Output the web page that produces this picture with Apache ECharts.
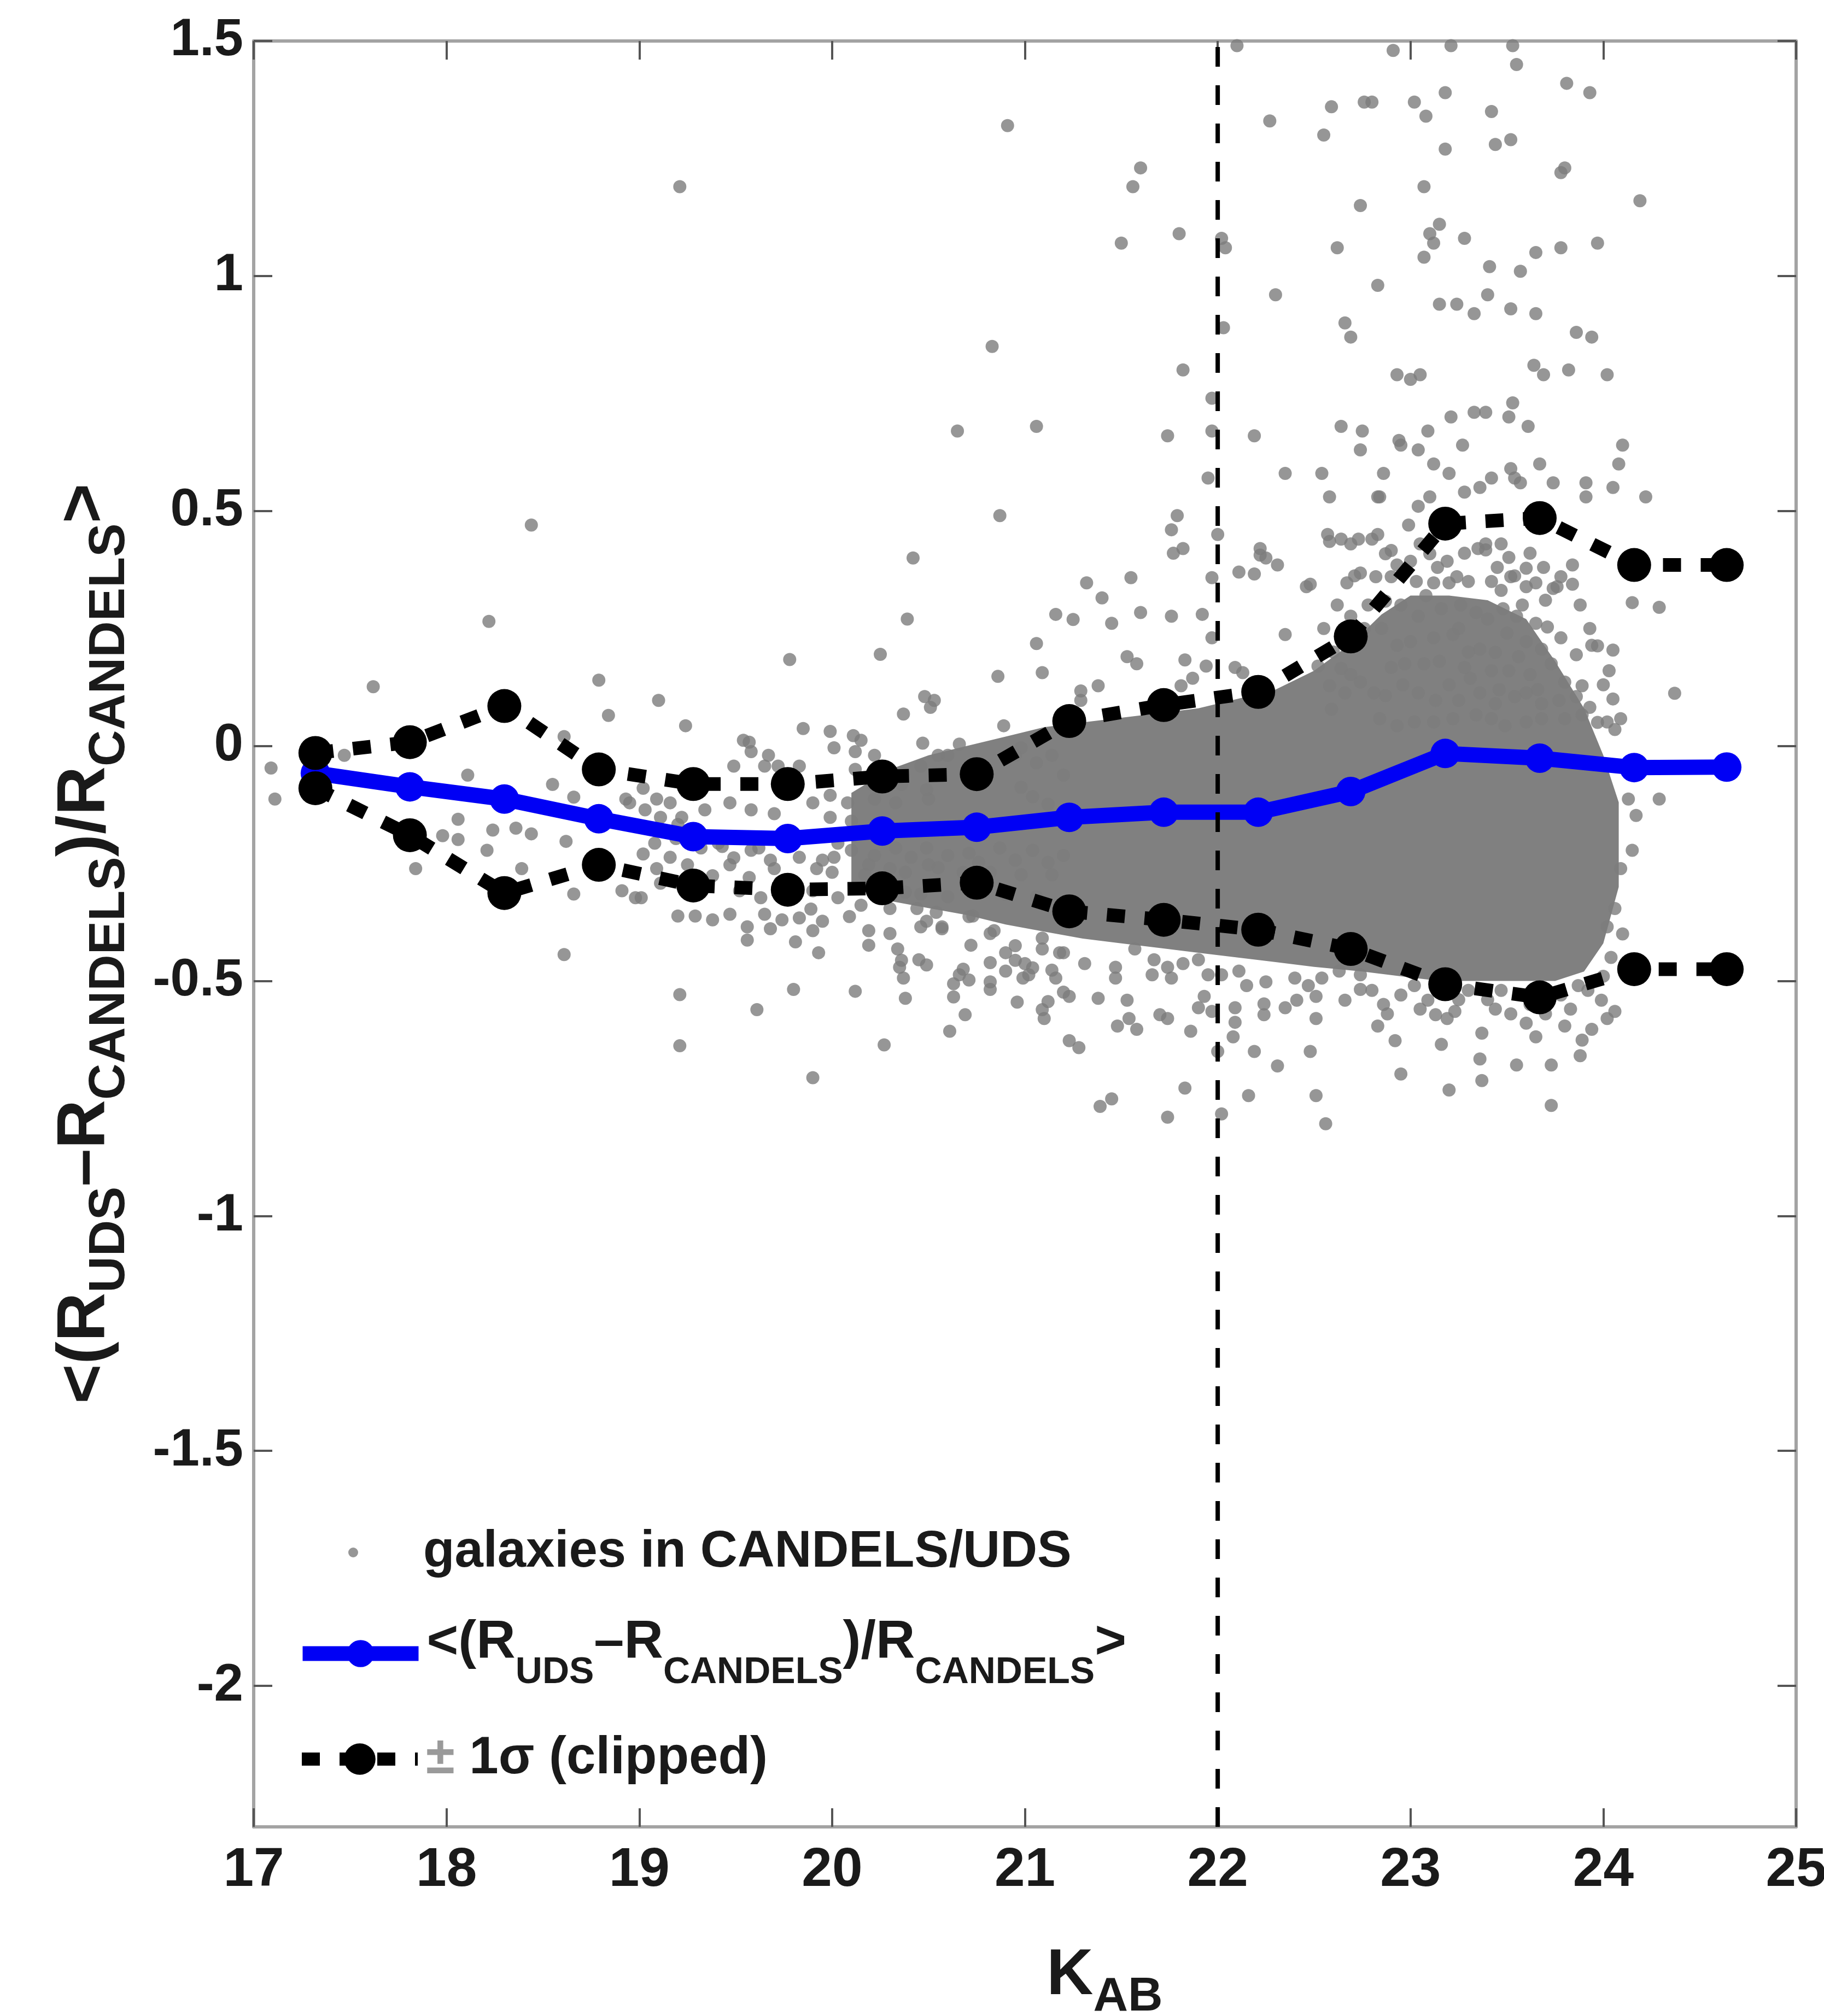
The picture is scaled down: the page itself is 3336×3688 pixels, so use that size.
<!DOCTYPE html>
<html>
<head>
<meta charset="utf-8" />
<title>UDS vs CANDELS radius</title>
<script src="https://cdn.jsdelivr.net/npm/echarts@6.0.0/dist/echarts.min.js"></script>
<style>
  html, body { margin: 0; padding: 0; background: #fff; }
  #chart { width: 3336px; height: 3688px; }
</style>
</head>
<body>
<div id="chart"></div>
<script>
// K_AB bin centres and the binned statistics
var binK = [17.32, 17.81, 18.30, 18.79, 19.28, 19.77, 20.26, 20.75, 21.23, 21.72, 22.21, 22.69, 23.18, 23.67, 24.16, 24.64];
var meanRel = [-0.058, -0.087, -0.113, -0.155, -0.193, -0.197, -0.181, -0.173, -0.152, -0.141, -0.141, -0.097, -0.016, -0.026, -0.046, -0.045];
var sigmaUp = [-0.015, 0.008, 0.085, -0.05, -0.081, -0.081, -0.065, -0.06, 0.053, 0.087, 0.115, 0.233, 0.473, 0.485, 0.385, 0.385];
var sigmaLow = [-0.09, -0.19, -0.313, -0.253, -0.297, -0.306, -0.303, -0.291, -0.352, -0.37, -0.391, -0.432, -0.507, -0.535, -0.475, -0.475];

var cutK = 22;
var yMin = -2.3, yMax = 1.5;
var yTicks = [-2, -1.5, -1, -0.5, 0, 0.5, 1, 1.5];

// outline of the region where the galaxy points merge into a solid cloud
var coreUpper = [[20.1,-0.1],[20.3,-0.05],[20.5,-0.02],[20.7,0.0],[20.9,0.02],[21.1,0.04],[21.3,0.05],[21.5,0.06],[21.7,0.07],[21.9,0.08],[22.1,0.1],[22.3,0.12],[22.5,0.16],[22.7,0.22],[22.85,0.28],[23.0,0.32],[23.2,0.32],[23.4,0.31],[23.6,0.27],[23.75,0.18],[23.9,0.08],[24.0,-0.02],[24.08,-0.12]];
var coreLower = [[24.08,-0.3],[24.0,-0.42],[23.9,-0.48],[23.75,-0.5],[23.55,-0.5],[23.35,-0.5],[23.15,-0.5],[22.95,-0.49],[22.75,-0.48],[22.5,-0.47],[22.3,-0.46],[22.1,-0.45],[21.9,-0.44],[21.7,-0.43],[21.5,-0.42],[21.3,-0.41],[21.1,-0.395],[20.9,-0.38],[20.7,-0.36],[20.5,-0.345],[20.3,-0.33],[20.1,-0.3]];

// individual galaxies [K_AB, relative difference]
var galaxies = [
  [19.21,1.19],[18.44,0.47],[20.42,0.40],[20.91,1.32],[22.10,1.49],[22.27,1.33],[22.59,1.36],[22.76,1.37],[22.55,1.30],[21.60,1.23],
  [21.56,1.19],[22.74,1.15],[21.50,1.07],[21.80,1.09],[22.04,1.06],[22.02,1.08],[22.62,1.06],[22.30,0.96],[22.66,0.90],[22.69,0.87],
  [22.03,0.89],[20.83,0.85],[21.82,0.80],[21.97,0.74],[22.64,0.68],[22.75,0.67],[22.74,0.63],[20.65,0.67],[21.06,0.68],[21.74,0.66],
  [21.97,0.67],[22.19,0.66],[22.35,0.58],[22.54,0.58],[21.95,0.57],[22.58,0.53],[20.87,0.49],[21.79,0.49],[21.76,0.46],[22.57,0.45],
  [22.64,0.44],[22.73,0.44],[21.82,0.42],[22.22,0.42],[21.77,0.41],[22.00,0.45],[22.95,0.64],[22.84,0.53],[23.42,0.57],
  [22.91,1.48],[23.21,1.49],[23.53,1.49],[23.55,1.45],[23.81,1.41],[23.93,1.39],[22.80,1.37],[23.02,1.37],[23.18,1.39],[23.08,1.34],
  [23.42,1.35],[23.44,1.28],[23.52,1.29],[23.18,1.27],[23.78,1.22],[23.80,1.23],[23.07,1.19],[24.19,1.16],[23.15,1.11],[23.10,1.09],
  [23.12,1.07],[23.07,1.04],[23.28,1.08],[23.65,1.05],[23.78,1.06],[23.97,1.07],[23.41,1.02],[23.57,1.01],[22.83,0.98],[23.40,0.96],
  [23.15,0.94],[23.24,0.94],[23.33,0.92],[23.52,0.93],[23.65,0.92],[23.86,0.88],[23.94,0.87],[23.64,0.81],[23.69,0.79],[23.82,0.80],
  [24.02,0.79],[22.93,0.79],[23.00,0.78],[23.05,0.79],[23.33,0.71],[23.39,0.71],[23.53,0.73],[23.51,0.70],[23.21,0.70],[23.61,0.68],
  [23.09,0.67],[22.94,0.65],[23.04,0.63],[23.27,0.64],[24.10,0.64],[24.08,0.60],[23.12,0.60],[23.20,0.58],[22.86,0.58],[23.52,0.59],
  [23.67,0.60],[23.54,0.57],[23.57,0.56],[23.74,0.56],[23.91,0.56],[23.91,0.53],[24.05,0.55],[24.22,0.53],[23.28,0.54],[23.36,0.55],
  [22.83,0.53],[23.10,0.53],[23.04,0.51],[22.99,0.47],[22.83,0.45],[23.39,0.43],[23.47,0.43],
  [22.25,0.40],[22.31,0.385],[22.11,0.37],[22.19,0.366],[21.97,0.358],[21.55,0.358],[21.32,0.347],[21.40,0.315],[22.46,0.339],[22.67,0.347],
  [22.71,0.362],[21.16,0.28],[21.25,0.269],[21.45,0.261],[21.60,0.284],[21.76,0.276],[21.92,0.28],[22.35,0.237],[22.69,0.276],[21.97,0.23],
  [21.06,0.218],[21.53,0.19],[21.58,0.175],[21.83,0.183],[20.86,0.148],[21.09,0.156],[21.87,0.144],[21.29,0.117],[22.09,0.167],[22.13,0.156],
  [22.58,0.128],[22.66,0.113],[22.69,0.152],[20.89,0.043],[20.66,0.004],[20.53,0.097],[20.51,0.082],[20.55,-0.02],[21.81,0.128],[21.38,0.128],
  [21.29,0.097],[22.58,0.435],[22.69,0.43],[22.80,0.44],[22.90,0.416],[22.48,0.344],[22.74,0.368],[22.64,0.165],[22.74,0.136],[22.87,0.107],
  [22.59,0.078],[22.22,0.406],[21.94,0.17],[20.48,0.105],[20.98,-0.004],[20.39,0.27],[20.25,0.195],[19.78,0.184],
  [22.55,0.25],[22.62,0.30],[22.70,0.22],[22.78,0.30],[22.82,0.36],[22.60,0.20],[22.52,0.17],[22.76,0.25],
  [18.22,0.265],[17.62,0.126],[18.79,0.14],[19.10,0.097],[18.84,0.065],[19.24,0.043],[20.37,0.068],[19.85,0.037],[19.99,0.031],[17.09,-0.047],
  [17.11,-0.113],[17.47,-0.02],[18.11,-0.062],[18.55,-0.082],[18.61,0.02],[18.66,-0.109],[18.06,-0.156],[18.24,-0.179],[18.36,-0.175],[18.44,-0.187],
  [18.62,-0.203],[18.21,-0.222],[17.98,-0.191],[18.06,-0.199],[17.84,-0.261],[18.39,-0.261],[18.66,-0.315],[18.61,-0.444],[18.91,-0.308],[19.01,-0.323],
  [18.95,-0.121],[19.03,-0.136],[19.11,-0.152],[19.20,-0.167],[19.49,-0.043],[19.57,0.008],[19.67,-0.02],[19.72,-0.043],[20.01,-0.004],[20.15,0.012],
  [20.12,-0.05],[19.20,-0.362],[19.29,-0.362],[19.38,-0.37],[19.47,-0.358],[19.56,-0.385],[19.65,-0.358],[19.74,-0.37],[19.83,-0.366],[19.56,-0.413],
  [19.81,-0.417],[19.90,-0.393],[19.93,-0.44],[20.19,-0.393],[20.19,-0.424],[20.34,-0.432],[20.35,-0.471],[20.37,-0.494],[20.45,-0.455],[20.46,-0.385],
  [19.21,-0.529],[19.61,-0.561],[19.80,-0.518],[20.12,-0.522],[20.38,-0.537],[19.21,-0.638],[20.27,-0.636],[19.90,-0.706],
  [19.16,-0.237],[19.09,-0.261],[19.02,-0.23],[19.25,-0.253],[19.11,-0.292],[18.98,-0.323],[19.27,-0.308],[19.38,-0.276],[19.47,-0.253],[19.58,-0.222],
  [19.43,-0.214],[19.52,-0.308],[19.63,-0.323],[19.70,-0.261],[19.83,-0.237],[19.92,-0.261],[20.01,-0.237],[20.10,-0.222],[20.19,-0.253],[20.30,-0.261],
  [20.41,-0.237],[20.50,-0.253],[19.90,-0.308],[20.03,-0.323],[20.15,-0.339],[20.30,-0.346],[20.44,-0.346],[20.46,-0.315],
  [19.54,0.012],[19.58,-0.012],[19.65,-0.043],[19.83,-0.043],[19.90,-0.121],[19.99,-0.105],[20.08,-0.121],[20.12,-0.012],[20.21,-0.082],[20.33,-0.121],
  [20.37,-0.058],[20.46,-0.043],[20.50,-0.113],[19.47,-0.121],[19.34,-0.136],[19.22,-0.152],[19.16,-0.121],[19.09,-0.113],[19.02,-0.09],[18.93,-0.113],
  [19.58,-0.136],[19.70,-0.144],[19.99,-0.152],[20.10,-0.16],
  [20.11,0.022],[20.22,-0.02],[20.47,0.006],[20.60,-0.02],[20.95,-0.02],[21.06,-0.036],[21.14,-0.02],[21.2,-0.062],[20.36,-0.082],[20.49,-0.093],
  [20.22,-0.113],[20.98,-0.088],[21.04,-0.108],[21.12,-0.124],
  [19.08,-0.207],[19.19,-0.197],[19.32,-0.217],[19.41,-0.207],[19.49,-0.238],[19.62,-0.217],[19.68,-0.243],[19.95,-0.243],[20.03,-0.207],[20.22,-0.233],
  [20.33,-0.217],[20.49,-0.217],[20.60,-0.233],[20.71,-0.228],[20.76,-0.248],[20.87,-0.217],[20.95,-0.243],[21.04,-0.222],[21.12,-0.248],[21.2,-0.233],
  [20.0,-0.269],[20.17,-0.274],[20.38,-0.269],[20.55,-0.259],[20.68,-0.269],[20.82,-0.269],[20.98,-0.274],[21.14,-0.274],[19.57,-0.28],[19.73,-0.29],
  [20.38,-0.311],[20.60,-0.321],[20.90,-0.316],[21.06,-0.321],
  [19.68,-0.389],[19.89,-0.347],[19.95,-0.373],[20.09,-0.363],[20.30,-0.399],[20.49,-0.373],[20.57,-0.389],[20.71,-0.363],[20.82,-0.399],[20.95,-0.425],
  [21.09,-0.409],[21.2,-0.44],[20.36,-0.456],[20.49,-0.466],[20.82,-0.461],[20.95,-0.456],[21.04,-0.472],[21.14,-0.477],[20.71,-0.498],[20.63,-0.534],
  [20.82,-0.518],[21.12,-0.544],[21.2,-0.524],
  [20.54,-0.354],[20.57,-0.385],[20.73,-0.362],[20.84,-0.393],[20.72,-0.424],[20.90,-0.44],[21.09,-0.432],[21.18,-0.44],[21.31,-0.463],[21.47,-0.471],
  [21.57,-0.432],[21.67,-0.455],[21.74,-0.471],[21.82,-0.463],[21.90,-0.455],[21.00,-0.463],[21.02,-0.487],[20.66,-0.487],[20.63,-0.506],[20.68,-0.475],
  [20.82,-0.502],[20.90,-0.479],[20.99,-0.494],[21.16,-0.494],[21.47,-0.494],[21.66,-0.487],[21.76,-0.494],[22.02,-0.487],[21.95,-0.487],[22.11,-0.479],
  [22.15,-0.51],[22.25,-0.502],[22.40,-0.494],[22.47,-0.51],[22.54,-0.494],[22.63,-0.479],[22.74,-0.487],[22.41,-0.541],[22.51,-0.533],[22.66,-0.541],
  [22.74,-0.518],[22.24,-0.549],[22.35,-0.557],[20.96,-0.545],[21.09,-0.561],[21.10,-0.58],[21.23,-0.533],[21.38,-0.537],[21.53,-0.541],[21.54,-0.58],
  [21.70,-0.572],[21.74,-0.58],[21.90,-0.557],[21.93,-0.533],[21.97,-0.565],[22.09,-0.557],[22.09,-0.588],[22.24,-0.572],[20.69,-0.572],[20.61,-0.607],
  [21.86,-0.607],[21.48,-0.596],[21.58,-0.603],[22.51,-0.58],[21.23,-0.627],[21.28,-0.642],[22.08,-0.619],[22.19,-0.65],[22.31,-0.681],[22.48,-0.65],
  [22.00,-0.65],[21.83,-0.728],[22.16,-0.744],[22.51,-0.744],[21.39,-0.767],[21.45,-0.751],[21.74,-0.79],[22.02,-0.783],[22.56,-0.804],
  [22.95,-0.698],[23.20,-0.732],[23.37,-0.712],[23.55,-0.679],[23.73,-0.679],[23.73,-0.765],[23.37,-0.611],[23.16,-0.635],[23.88,-0.659],[23.89,-0.626],
  [22.83,-0.596],[22.92,-0.627],[23.09,-0.541],[23.23,-0.565],[23.36,-0.666],[23.65,-0.619],[23.80,-0.596],[23.94,-0.603],[24.02,-0.58],[24.06,-0.565],
  [23.13,-0.572],[23.19,-0.58],[23.87,-0.51],[23.99,-0.541],[22.80,-0.52],[22.86,-0.55],[22.95,-0.53],[23.02,-0.51],[23.30,-0.52],[23.40,-0.54],
  [23.47,-0.52],[23.62,-0.55],[23.70,-0.57],[23.78,-0.53],[23.83,-0.56],[23.92,-0.52],[24.00,-0.49],[23.60,-0.59],[23.44,-0.56],
  [22.88,-0.57],[23.05,-0.56],[23.25,-0.54],[23.52,-0.57],[23.72,-0.53],[24.04,-0.45],[24.10,-0.40],
  [24.13,-0.113],[24.29,-0.113],[24.17,-0.148],[24.15,-0.222],[24.09,-0.261],[24.02,-0.385],[24.06,-0.346],[24.15,0.305],[24.29,0.295],[24.37,0.112],
  [23.97,0.213],[24.05,0.204],[24.03,0.16],[23.86,0.194],[23.84,0.344],[23.76,0.339],[23.94,0.214],[24.02,0.051],[24.09,0.058],[24.06,0.035],
  [22.87,0.409],[22.93,0.385],[23.0,0.393],[23.10,0.409],[23.19,0.393],[23.39,0.417],[23.51,0.401],[23.60,0.378],[23.84,0.385],[23.12,0.347],
  [23.20,0.347],[23.47,0.331],[23.54,0.362],[23.60,0.339],[23.65,0.347],[23.74,0.335],[22.87,0.308],[23.04,0.276],[23.16,0.292],[23.26,0.30],
  [23.34,0.284],[23.48,0.292],[23.55,0.276],[23.65,0.261],[23.71,0.253],[22.93,0.214],[23.0,0.222],[23.12,0.23],[23.22,0.237],[23.36,0.206],
  [23.44,0.199],[23.60,0.222],[23.68,0.206],[22.90,0.167],[22.97,0.175],[23.07,0.175],[23.28,0.167],[23.31,0.144],[23.42,0.16],[23.51,0.16],
  [23.62,0.152],[23.73,0.175],[23.80,0.136],[23.89,0.128],[22.81,0.113],[23.04,0.113],[23.13,0.097],[23.25,0.097],[23.36,0.113],[23.44,0.09],
  [23.54,0.105],[23.60,0.113],[23.68,0.09],[23.77,0.097],[23.86,0.105],[23.93,0.082],[22.84,0.058],[22.93,0.043],[23.02,0.051],[23.12,0.051],
  [23.22,0.058],[23.34,0.066],[23.42,0.058],[23.49,0.043],[23.60,0.051],[23.68,0.058],[23.80,0.058],[23.89,0.066],
  [22.95,0.30],[23.08,0.32],[23.30,0.35],[23.40,0.27],[23.50,0.24],[23.58,0.30],[23.25,0.25],[23.15,0.18],[22.85,0.25],[23.45,0.38],
  [23.70,0.31],[23.78,0.23],[23.35,0.42],[23.05,0.43],[22.96,0.13],[23.20,0.13],[23.56,0.19],[23.66,0.12],[23.46,0.12],[23.30,0.20],
  [22.90,0.36],[23.03,0.35],[23.14,0.38],[23.24,0.36],[23.28,0.41],[23.42,0.35],[23.52,0.36],[23.62,0.41],[23.69,0.38],[23.78,0.36],
  [23.88,0.30],[23.93,0.25],[24.0,0.13],[24.05,0.10],[23.97,0.05]
];

var nameGal = 'galaxies in CANDELS/UDS';
var nameMean = '<(R_UDS–R_CANDELS)/R_CANDELS>';
var nameSig = '± 1σ (clipped)';

function zip(xs, ys) {
  return xs.map(function (x, i) { return [x, ys[i]]; });
}

var font = 'Liberation Sans, Arial, Helvetica, sans-serif';
var ink = '#1a1a1a';
var axisLineStyle = { color: '#a3a3a3', width: 6 };
var tickStyle = { color: '#555', width: 4 };

function boldText(size, extra) {
  var s = { fontSize: size, fontWeight: 'bold', fontFamily: font, color: ink, lineHeight: size };
  for (var k in extra) s[k] = extra[k];
  return s;
}

var chart = echarts.init(document.getElementById('chart'));

var option = {
  backgroundColor: '#fff',
  animation: false,
  grid: { left: 464, top: 75, right: 51, bottom: 346, outerBoundsMode: 'none' },
  xAxis: [
    {
      type: 'value', min: 17, max: 25, interval: 1, position: 'bottom',
      axisLine: { show: true, onZero: false, lineStyle: axisLineStyle },
      axisTick: { show: true, inside: true, length: 34, lineStyle: tickStyle },
      axisLabel: { fontSize: 100, fontWeight: 'bold', fontFamily: font, color: ink, margin: 30 },
      splitLine: { show: false },
      name: '{k|K}{s|AB}', nameLocation: 'middle', nameGap: 226,
      nameTextStyle: {
        padding: [0, 0, 0, 292],
        rich: {
          k: boldText(118, { padding: [0, 0, 23, 0] }),
          s: boldText(88, { padding: [53, 0, 0, 0] })
        }
      }
    },
    {
      type: 'value', min: 17, max: 25, interval: 1, position: 'top',
      axisLine: { show: true, onZero: false, lineStyle: axisLineStyle },
      axisTick: { show: true, inside: true, length: 34, lineStyle: tickStyle },
      axisLabel: { show: false },
      splitLine: { show: false }
    }
  ],
  yAxis: [
    {
      type: 'value', min: yMin, max: yMax, position: 'left',
      axisLine: { show: true, onZero: false, lineStyle: axisLineStyle },
      axisTick: { show: true, inside: true, length: 34, lineStyle: tickStyle, customValues: yTicks },
      axisLabel: { customValues: yTicks, fontSize: 96, fontWeight: 'bold', fontFamily: font, color: ink, margin: 19 },
      splitLine: { show: false },
      name: '{m|<(R}{s|UDS}{m|–R}{s|CANDELS}{m|)/R}{s|CANDELS}{m|>}',
      nameLocation: 'middle', nameGap: 231, nameRotate: 90,
      nameTextStyle: {
        padding: [0, 36, 0, 0],
        rich: {
          m: boldText(124, { padding: [0, 0, 29, 0] }),
          s: boldText(92, { padding: [61, 0, 0, 0] })
        }
      }
    },
    {
      type: 'value', min: yMin, max: yMax, position: 'right',
      axisLine: { show: true, onZero: false, lineStyle: axisLineStyle },
      axisTick: { show: true, inside: true, length: 34, lineStyle: tickStyle, customValues: yTicks },
      axisLabel: { show: false },
      splitLine: { show: false }
    }
  ],
  legend: [
    {
      data: [nameGal], left: 637, top: 2790, padding: 0,
      itemWidth: 212, itemHeight: 18, selectedMode: false,
      textStyle: { fontSize: 94, fontWeight: 'bold', fontFamily: font, color: ink, lineHeight: 100, padding: [0, 0, 0, 17] }
    },
    {
      data: [nameMean], left: 540, top: 2956, padding: 0,
      itemWidth: 212, itemHeight: 62, selectedMode: false,
      lineStyle: { width: 27 },
      formatter: function () { return '{m|<(R}{s|UDS}{m|–R}{s|CANDELS}{m|)/R}{s|CANDELS}{m|>}'; },
      textStyle: {
        padding: [0, 0, 0, 10],
        rich: {
          m: boldText(99, { padding: [0, 0, 39, 0] }),
          s: boldText(68, { padding: [70, 0, 0, 0] })
        }
      }
    },
    {
      data: [nameSig], left: 540, top: 3170, padding: 0,
      itemWidth: 212, itemHeight: 72, selectedMode: false,
      lineStyle: { width: 24 },
      formatter: function () { return '{pm|±}{t| 1σ (clipped)}'; },
      textStyle: {
        padding: [0, 0, 0, 10],
        rich: {
          pm: boldText(96, { lineHeight: 100, color: '#9a9a9a' }),
          t: boldText(96, { lineHeight: 100 })
        }
      }
    }
  ],
  series: [
    {
      name: 'core', type: 'custom', data: [[20, 0]], z: 1, silent: true, clip: true,
      renderItem: function (params, api) {
        var pts = coreUpper.concat(coreLower).map(function (p) { return api.coord(p); });
        return { type: 'polygon', shape: { points: pts }, style: { fill: '#808080' } };
      }
    },
    {
      name: nameGal, type: 'scatter', data: galaxies, symbol: 'circle', symbolSize: 24,
      itemStyle: { color: '#7c7c7c' }, z: 2, silent: true
    },
    {
      name: nameMean, type: 'line', data: zip(binK, meanRel),
      symbol: 'circle', symbolSize: 54,
      lineStyle: { color: '#0000f5', width: 28 },
      itemStyle: { color: '#0000f5' }, z: 3
    },
    {
      name: nameSig, type: 'line', data: zip(binK, sigmaUp),
      symbol: 'circle', symbolSize: 62,
      lineStyle: { color: '#000', width: 25, type: [33, 36] },
      itemStyle: { color: '#000' }, z: 4
    },
    {
      name: nameSig, type: 'line', data: zip(binK, sigmaLow),
      symbol: 'circle', symbolSize: 62,
      lineStyle: { color: '#000', width: 25, type: [33, 36] },
      itemStyle: { color: '#000' }, z: 4
    },
    {
      name: 'cut', type: 'line', data: [[cutK, yMin], [cutK, yMax]],
      symbol: 'none', silent: true,
      lineStyle: { color: '#000', width: 8, type: [36, 34] }, z: 6
    }
  ]
};

chart.setOption(option);
</script>
</body>
</html>
